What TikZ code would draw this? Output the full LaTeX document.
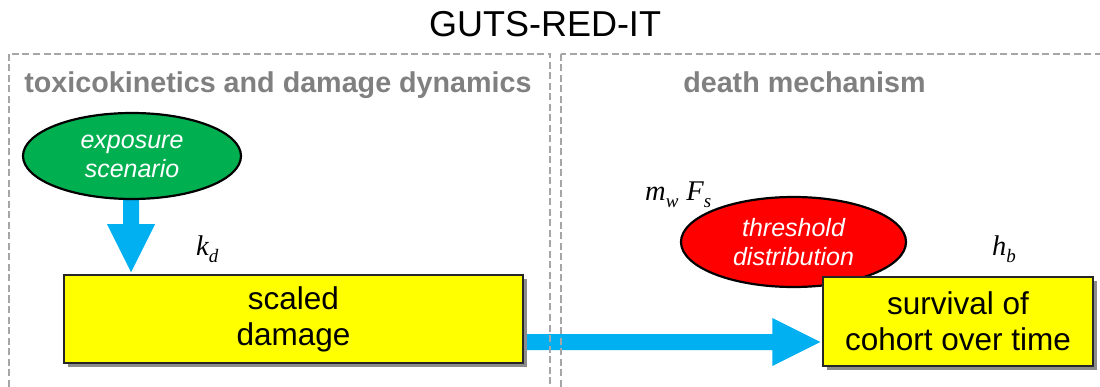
\documentclass[tikz,border=0pt]{standalone}
\usepackage{fontspec}
\setmainfont{Liberation Sans}
\newfontfamily\timesfont{Liberation Serif}
\usetikzlibrary{calc,shadows,shapes.geometric,backgrounds}
\definecolor{ablue}{HTML}{00B0F0}
\definecolor{egreen}{HTML}{00B050}
\definecolor{ered}{HTML}{FF0000}
\definecolor{byellow}{HTML}{FFFF00}
\definecolor{hgray}{HTML}{808080}
\definecolor{dgray}{HTML}{A6A6A6}
\newcommand{\mvar}[2]{{\timesfont\itshape #1\raisebox{-0.22em}{\fontsize{19}{19}\selectfont #2}}}
\begin{document}
\begin{tikzpicture}[x=1pt,y=-1pt,
  panel/.style={draw=dgray, line width=2.4pt, dash pattern=on 7pt off 3.5pt},
  heading/.style={text=hgray, font=\bfseries\fontsize{28.7}{32}\selectfont, anchor=base, inner sep=0},
  oval/.style={ellipse, draw=black, line width=2.2pt, text=white, font=\itshape\fontsize{25}{29}\selectfont, align=center, inner sep=0},
  ybox/.style={rectangle, draw=black!85, line width=1.5pt, fill=byellow, font=\fontsize{31.5}{36}\selectfont, align=center, inner sep=0, drop shadow={shadow xshift=4pt, shadow yshift=-4pt, fill=black!45, opacity=1}},
  param/.style={font=\fontsize{28.5}{30}\selectfont, anchor=base west, inner sep=0},
  flow/.style={fill=ablue}
]
\useasboundingbox (0,0) rectangle (1100,387);
\clip (0,0) rectangle (1100,387);

% panels
\draw[panel] (9,54) rectangle (550,400);
\draw[panel] (561,54) rectangle (1110,400);

% title and headings
\node[font=\fontsize{36}{40}\selectfont, anchor=base, inner sep=0] (title) at (545,37) {GUTS-RED-IT};
\node[heading] (h1) at (278,93) {toxicokinetics and damage dynamics};
\node[heading] (h2) at (804.5,93) {death mechanism};

% nodes
\node[oval, fill=egreen, minimum width=218pt, minimum height=86pt] (exp) at (132,156) {exposure\\scenario};
\node[oval, fill=ered, minimum width=225pt, minimum height=90pt] (thr) at (793.5,242) {threshold\\distribution};
\node[ybox, minimum width=459pt, minimum height=88pt] (dmg) at (293.5,319) {scaled\\damage};
\node[ybox, minimum width=270pt, minimum height=89pt] (surv) at (958,321.5) {survival of\\cohort over time};

% parameters
\node[param] (kd) at (196,256) {\mvar{k}{d}};
\node[param] (mf) at (645,201) {\mvar{m}{w}\ \mvar{F}{s}};
\node[param] (hb) at (992,256) {\mvar{h}{b}};

% flow arrows (behind the nodes)
\begin{scope}[on background layer]
\fill[white] (0,0) rectangle (1100,387);
\coordinate (dtop) at (exp.south);
\coordinate (dtip) at ($(dtop |- dmg.north)+(-1,-2)$);
\coordinate (dstart) at ($(dtip |- dtop)+(0,-3)$);
\fill[flow] ($(dstart)+(-8,0)$) -- ($(dtip)+(-8,-48)$) -- ($(dtip)+(-24,-48)$) -- (dtip)
  -- ($(dtip)+(24,-48)$) -- ($(dtip)+(8,-48)$) -- ($(dstart)+(8,0)$) -- cycle;
\coordinate (hs) at ($(dmg.east)+(-3,23)$);
\coordinate (htip) at ($(surv.west |- hs)+(-2,0)$);
\fill[flow] ($(hs)+(0,-8)$) -- ($(htip)+(-48,-8)$) -- ($(htip)+(-48,-24)$) -- (htip)
  -- ($(htip)+(-48,24)$) -- ($(htip)+(-48,8)$) -- ($(hs)+(0,8)$) -- cycle;
\end{scope}
\end{tikzpicture}
\end{document}
